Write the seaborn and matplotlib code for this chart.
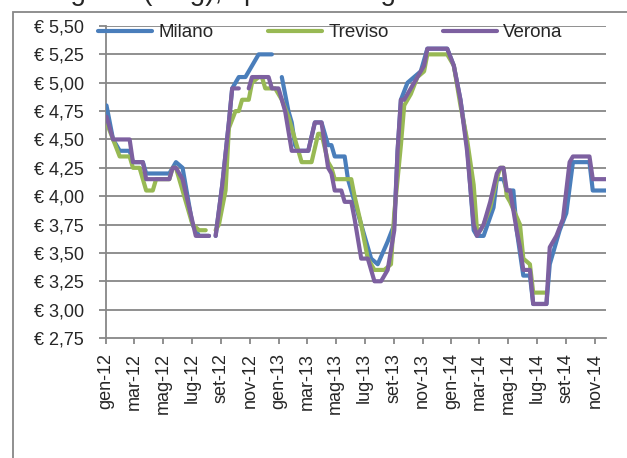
import numpy as np
import pandas as pd
import matplotlib
matplotlib.use("Agg")
import matplotlib.pyplot as plt
from matplotlib.patches import Rectangle
from matplotlib.lines import Line2D
import seaborn as sns

# Weekly quotations, week 0 = first week of January 2012; NaN = no quotation that week
cities = ["Milano", "Treviso", "Verona"]
colors = ["#4A7EBB", "#98B954", "#7D60A0"]

milano_week = [0, 2, 4, 7, 8, 11, 12, 19, 21, 23,
               26, 28, 31, 32, 33, 35, 37, 38, 40, 42,
               44, 46, 50, 51, 53, 55, 56, 57, 58, 61,
               63, 65, 67, 68, 69, 72, 73, 77, 80, 82,
               85, 87, 88, 89, 91, 93, 95, 97, 103, 105,
               107, 109, 111, 112, 114, 117, 118, 120, 121, 123,
               124, 126, 128, 129, 133, 134, 137, 139, 141, 146,
               147, 151]
milano_price = [4.80, 4.50, 4.40, 4.40, 4.30, 4.30, 4.20, 4.20, 4.30, 4.25,
                3.75, 3.65, 3.65, np.nan, 3.65, 4.10, 4.65, 4.95, 5.05, 5.05,
                5.15, 5.25, 5.25, np.nan, 5.05, 4.75, 4.65, 4.45, 4.40, 4.40,
                4.65, 4.65, 4.45, 4.45, 4.35, 4.35, 4.15, 3.75, 3.45, 3.40,
                3.60, 3.75, 4.40, 4.85, 5.00, 5.05, 5.10, 5.30, 5.30, 5.15,
                4.85, 4.45, 3.70, 3.65, 3.65, 3.90, 4.15, 4.15, 4.05, 4.05,
                3.70, 3.30, 3.30, 3.05, 3.05, 3.40, 3.70, 3.85, 4.30, 4.30,
                4.05, 4.05]

treviso_week = [0, 2, 4, 7, 8, 10, 12, 14, 15, 19,
                20, 21, 23, 26, 28, 30, 31, 33, 34, 36,
                37, 39, 40, 41, 43, 44, 46, 47, 48, 51,
                53, 55, 56, 58, 59, 62, 64, 65, 67, 68,
                69, 74, 75, 77, 79, 81, 84, 86, 87, 89,
                90, 92, 94, 96, 97, 103, 105, 107, 109, 111,
                112, 113, 114, 116, 118, 119, 120, 121, 122, 125,
                126, 128, 129, 133]
treviso_price = [4.65, 4.50, 4.35, 4.35, 4.25, 4.25, 4.05, 4.05, 4.15, 4.15,
                 4.25, 4.25, 4.05, 3.75, 3.70, 3.70, np.nan, 3.70, 3.75, 4.05,
                 4.60, 4.75, 4.75, 4.85, 4.85, 5.00, 5.05, 5.05, 4.95, 4.95,
                 4.85, 4.70, 4.60, 4.40, 4.30, 4.30, 4.55, 4.55, 4.30, 4.25,
                 4.15, 4.15, 4.00, 3.75, 3.45, 3.35, 3.35, 3.40, 3.85, 4.45,
                 4.80, 4.90, 5.05, 5.10, 5.25, 5.25, 5.15, 4.80, 4.50, 4.10,
                 3.70, 3.70, 3.75, 3.90, 4.15, 4.25, 4.25, 4.00, 3.95, 3.75,
                 3.45, 3.40, 3.15, 3.15]

verona_week = [0, 2, 7, 8, 11, 12, 19, 20, 21, 23,
               27, 31, 32, 33, 35, 37, 38, 40, 41, 43,
               44, 49, 50, 52, 54, 56, 61, 63, 65, 67,
               68, 69, 71, 72, 74, 75, 77, 79, 81, 83,
               85, 87, 88, 89, 90, 91, 93, 94, 95, 96,
               97, 103, 105, 107, 109, 111, 112, 114, 116, 118,
               119, 120, 121, 122, 124, 125, 126, 128, 129, 133,
               134, 136, 138, 140, 141, 146, 147, 151]
verona_price = [4.70, 4.50, 4.50, 4.30, 4.30, 4.15, 4.15, 4.25, 4.25, 4.15,
                3.65, 3.65, np.nan, 3.65, 4.10, 4.65, 4.95, 4.95, np.nan, 4.95,
                5.05, 5.05, 4.95, 4.95, 4.75, 4.40, 4.40, 4.65, 4.65, 4.25,
                4.20, 4.05, 4.05, 3.95, 3.95, 3.80, 3.45, 3.45, 3.25, 3.25,
                3.35, 3.70, 4.40, 4.85, 4.85, 4.90, 5.00, 5.05, 5.10, 5.15,
                5.30, 5.30, 5.15, 4.85, 4.40, 3.75, 3.65, 3.75, 3.95, 4.20,
                4.25, 4.25, 4.05, 4.05, 3.70, 3.55, 3.35, 3.35, 3.05, 3.05,
                3.55, 3.65, 3.80, 4.30, 4.35, 4.35, 4.15, 4.15]

x_tick_labels = ["gen-12", "mar-12", "mag-12", "lug-12", "set-12", "nov-12",
                 "gen-13", "mar-13", "mag-13", "lug-13", "set-13", "nov-13",
                 "gen-14", "mar-14", "mag-14", "lug-14", "set-14", "nov-14"]
y_ticks = [2.75, 3.00, 3.25, 3.50, 3.75, 4.00, 4.25, 4.50, 4.75, 5.00, 5.25, 5.50]
y_tick_labels = ["€ 2,75", "€ 3,00", "€ 3,25", "€ 3,50", "€ 3,75", "€ 4,00",
                 "€ 4,25", "€ 4,50", "€ 4,75", "€ 5,00", "€ 5,25", "€ 5,50"]
title_text = "Agnelli (€/kg), i prezzi all'ingrosso"

# long-form table; every run of quotations between gaps becomes its own line unit
frames = []
for city, wk, pr in [("Milano", milano_week, milano_price),
                     ("Treviso", treviso_week, treviso_price),
                     ("Verona", verona_week, verona_price)]:
    d = pd.DataFrame({"week": wk, "price": pr})
    d["segment"] = d["price"].isna().cumsum()
    d = d.dropna().copy()
    d["city"] = city
    frames.append(d)
df = pd.concat(frames, ignore_index=True)
df["date"] = pd.Timestamp("2012-01-02") + pd.to_timedelta(df["week"] * 7, unit="D")
df["unit"] = df["city"] + "_" + df["segment"].astype(str)

sns.set_style("white")
plt.rcParams["font.family"] = ["Liberation Sans", "DejaVu Sans"]

GRID = "#878787"
TICK_FS = 13
fig = plt.figure(figsize=(6.27, 4.58), dpi=100)
ax = fig.add_axes([106 / 627, 1 - 338 / 458, 500 / 627, 312 / 458])

for y in y_ticks[1:]:
    ax.axhline(y, color=GRID, lw=1.3, zorder=0)

sns.lineplot(data=df, x="date", y="price", hue="city", units="unit",
             estimator=None, sort=False, palette=dict(zip(cities, colors)),
             hue_order=cities, linewidth=3, legend=False, ax=ax, zorder=3)

ax.set_xlim(pd.Timestamp("2012-01-01"), pd.Timestamp("2014-11-24"))
ax.set_ylim(2.75, 5.50)
tick_dates = pd.date_range("2012-01-01", periods=len(x_tick_labels), freq="2MS")
ax.set_xticks(tick_dates)
ax.set_xticklabels(x_tick_labels, rotation=90, fontsize=TICK_FS)
ax.set_yticks(y_ticks)
ax.set_yticklabels(y_tick_labels, fontsize=TICK_FS)
ax.set_xlabel("")
ax.set_ylabel("")

for side in ["top", "right"]:
    ax.spines[side].set_visible(False)
for side in ["left", "bottom"]:
    ax.spines[side].set_color(GRID)
    ax.spines[side].set_linewidth(1.3)
ax.tick_params(axis="y", length=5, width=1.3, color=GRID, pad=11, left=True)
ax.tick_params(axis="x", length=4.5, width=1.3, color=GRID, pad=6.5, bottom=True)

handles = [Line2D([], [], color=c, lw=3) for c in colors]
ax.legend(handles, cities, ncol=3, loc="center left",
          bbox_to_anchor=(-0.016, 0.978), frameon=False, fontsize=13.5,
          handlelength=2.9, handletextpad=0.32, columnspacing=2.9,
          borderpad=0, borderaxespad=0)

# chart area border
fig.patches.append(Rectangle((13 / 627, -0.1), 1.2, 1.1 - 12 / 458,
                             transform=fig.transFigure, fill=False,
                             edgecolor=GRID, lw=1.3))
# chart title sits above the visible area; only its lowest strokes reach the canvas
fig.text(52 / 627, 1 + 0.5 / 458, title_text, ha="left", va="baseline", fontsize=20)

fig.savefig("out.png", dpi=100)
